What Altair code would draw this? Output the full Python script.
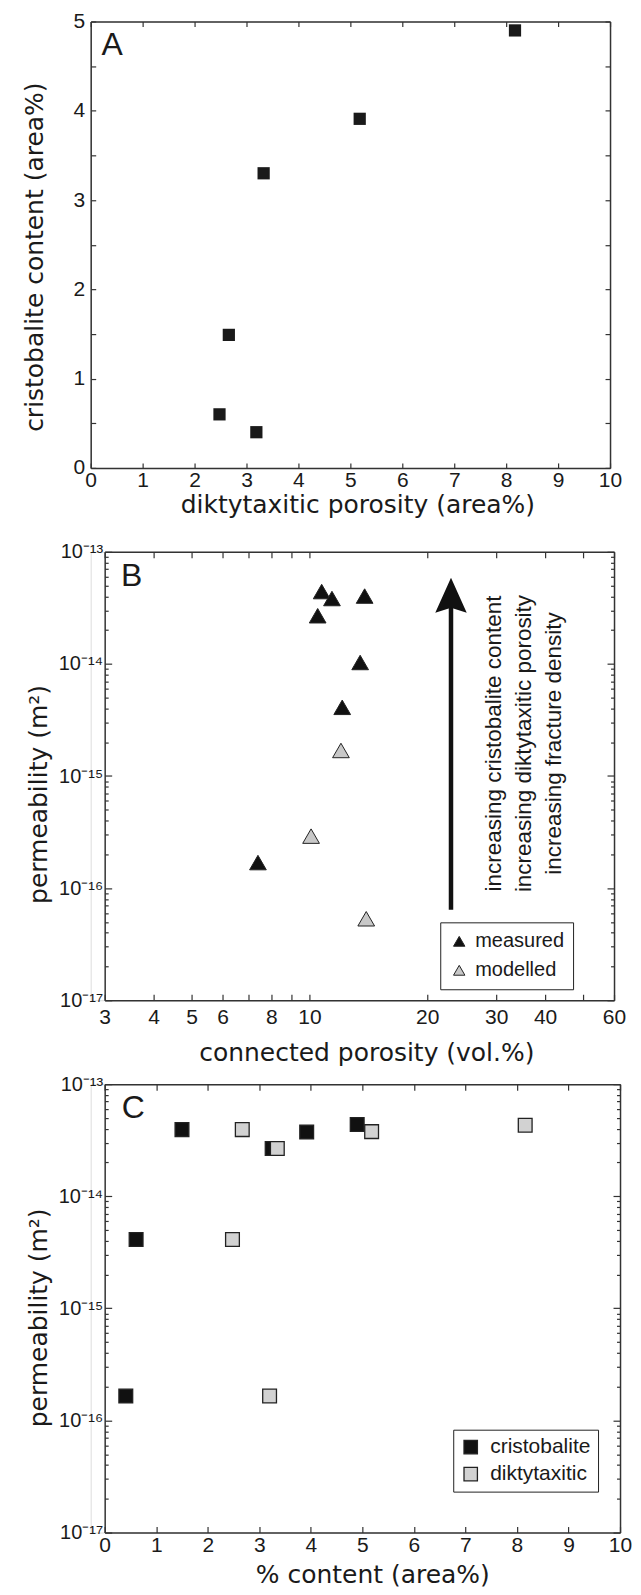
import altair as alt
import pandas as pd

FONT = "Liberation Sans"
TITLE_FONT = "DejaVu Sans"
INK = "#1a1a1a"
FRAME = "#333333"

# ---------------- Panel A data ----------------
a_diktytaxitic = [8.17, 5.18, 3.33, 2.66, 2.48, 3.19]
a_cristobalite = [4.90, 3.91, 3.30, 1.49, 0.60, 0.40]
a_x_ticks = [0, 1, 2, 3, 4, 5, 6, 7, 8, 9, 10]
a_y_ticks = [0, 0.5, 1, 1.5, 2, 2.5, 3, 3.5, 4, 4.5, 5]
a_tag = ["A"]
a_tag_x = [0.21]
a_tag_y = [4.62]

# ---------------- Panel B data ----------------
b_types = ["measured", "modelled"]
b_measured_porosity = [10.75, 11.42, 13.84, 10.5, 13.48, 12.13, 7.39]
b_measured_perm = [4.42e-14, 3.83e-14, 4.03e-14, 2.69e-14, 1.03e-14, 4.1e-15, 1.69e-16]
b_modelled_porosity = [12.04, 10.1, 13.97]
b_modelled_perm = [1.69e-15, 2.91e-16, 5.33e-17]
b_x_ticks = [3, 4, 5, 6, 7, 8, 9, 10, 20, 30, 40, 50, 60]
arrow_x = [23.0]
arrow_y_start = [6.41e-17]
arrow_y_end = [3.66e-14]
arrow_head_y = [4.10e-14]
arrow_text = ["increasing cristobalite content",
              "increasing diktytaxitic porosity",
              "increasing fracture density"]
arrow_text_x = [29.6]
arrow_text_y = [1.95e-15]
b_tag = ["B"]
b_tag_x = [3.30]
b_tag_y = [4.98e-14]

# ---------------- Panel C data ----------------
c_types = ["cristobalite", "diktytaxitic"]
c_cristobalite = [1.50, 3.92, 4.90, 3.25, 0.61, 0.41]
c_cristobalite_perm = [3.93e-14, 3.74e-14, 4.36e-14, 2.67e-14, 4.12e-15, 1.65e-16]
c_diktytaxitic = [2.67, 3.35, 5.18, 8.16, 2.48, 3.20]
c_diktytaxitic_perm = [3.93e-14, 2.67e-14, 3.77e-14, 4.30e-14, 4.12e-15, 1.65e-16]
c_x_ticks = [0, 1, 2, 3, 4, 5, 6, 7, 8, 9, 10]
c_tag = ["C"]
c_tag_x = [0.33]
c_tag_y = [4.98e-14]

# log axis ticks
decades = [1e-17, 1e-16, 1e-15, 1e-14, 1e-13]
minor = [k * d for d in decades[:-1] for k in range(2, 10)]
LOG_LABEL = ("datum.value > 5e-14 ? '10⁻¹³' : datum.value > 5e-15 ? '10⁻¹⁴' : "
             "datum.value > 5e-16 ? '10⁻¹⁵' : datum.value > 5e-17 ? '10⁻¹⁶' : '10⁻¹⁷'")


def ax(**kw):
    base = dict(domain=False, grid=False, tickColor=FRAME, tickWidth=1.2,
                labelColor=INK, labelFont=FONT, labelFontSize=21,
                labelFlush=False, labelOverlap=False, minExtent=0,
                titleFont=TITLE_FONT, titleFontSize=25, titleFontWeight="normal",
                titleColor=INK)
    base.update(kw)
    return alt.Axis(**base)


def ticks_only(orient, values, size, shift=0):
    return ax(orient=orient, values=values, tickSize=size, offset=-(size + shift),
              labels=False, title=None)


def frame_axis(orient, shift=0):
    return alt.Axis(orient=orient, offset=-shift, domain=True, domainColor=FRAME,
                    domainWidth=1.5, ticks=False, labels=False, grid=False,
                    minExtent=0, title=None)


def carrier(df, xf, yf, xs, ys, xaxis, yaxis):
    return alt.Chart(df).mark_point(opacity=0).encode(
        x=alt.X(xf, type="quantitative", scale=xs, axis=xaxis),
        y=alt.Y(yf, type="quantitative", scale=ys, axis=yaxis),
    )


def tag(letters, xs_, ys_, xs, ys):
    df = pd.DataFrame({"x": xs_, "y": ys_, "t": letters})
    return alt.Chart(df).mark_text(align="left", baseline="alphabetic",
                                   font=FONT, fontSize=32, color=INK).encode(
        x=alt.X("x:Q", scale=xs, axis=None),
        y=alt.Y("y:Q", scale=ys, axis=None),
        text="t:N",
    )


# ---------------- Panel A ----------------
dfA = pd.DataFrame({"d": a_diktytaxitic, "c": a_cristobalite})
xA = alt.Scale(domain=[0, 10], nice=False, zero=False)
yA = alt.Scale(domain=[0, 5], nice=False, zero=False)
WA, HA = 520, 447
pointsA = alt.Chart(dfA).mark_square(size=150, color=INK, opacity=1).encode(
    x=alt.X("d:Q", scale=xA, axis=ax(orient="bottom", values=a_x_ticks, tickSize=5,
                                     offset=-5, labelPadding=2, format="d",
                                     title="diktytaxitic porosity (area%)",
                                     titlePadding=2, titleX=WA / 2 + 7)),
    y=alt.Y("c:Q", scale=yA, axis=ax(orient="left", values=a_y_ticks, tickSize=5,
                                     offset=-5, labelPadding=6,
                                     labelExpr="datum.value % 1 == 0 ? format(datum.value, 'd') : ''",
                                     title="cristobalite content (area%)",
                                     titlePadding=26, titleY=HA / 2 + 12)),
)
A = alt.layer(
    carrier(dfA, "d", "c", xA, yA, frame_axis("bottom"), frame_axis("left")),
    carrier(dfA, "d", "c", xA, yA, frame_axis("top"), frame_axis("right")),
    carrier(dfA, "d", "c", xA, yA, ticks_only("top", a_x_ticks, 5),
            ticks_only("right", a_y_ticks, 5)),
    pointsA,
    tag(a_tag, a_tag_x, a_tag_y, xA, yA),
).resolve_axis(x="independent", y="independent").properties(width=WA, height=HA)

# ---------------- Panel B ----------------
SHIFT = 14  # panels B and C start 14 px to the right of panel A
dfB = pd.DataFrame({
    "por": b_measured_porosity + b_modelled_porosity,
    "perm": b_measured_perm + b_modelled_perm,
    "type": [b_types[0]] * len(b_measured_porosity) + [b_types[1]] * len(b_modelled_porosity),
})
WB, HB = 510 + SHIFT, 449
xB = alt.Scale(type="log", domain=[3, 60], range=[SHIFT, WB], nice=False)
yB = alt.Scale(type="log", domain=[1e-17, 1e-13], nice=False)
pointsB = alt.Chart(dfB).mark_point(shape="triangle-up", size=280, filled=True,
                                     stroke="#222", strokeWidth=1, opacity=1).encode(
    x=alt.X("por:Q", scale=xB, axis=ax(orient="bottom", values=b_x_ticks, tickSize=6,
                                       offset=-6, labelPadding=6,
                                       labelExpr="indexof([7, 9, 50], datum.value) >= 0 ? '' : format(datum.value, 'd')",
                                       title="connected porosity (vol.%)",
                                       titlePadding=13, titleX=(SHIFT + WB) / 2 + 7)),
    y=alt.Y("perm:Q", scale=yB, axis=ax(orient="left", values=decades, tickSize=7,
                                        offset=-(7 + SHIFT), labelPadding=2,
                                        labelFontSize=20, labelExpr=LOG_LABEL,
                                        title="permeability (m²)", titlePadding=7,
                                        titleY=HB / 2 + 18)),
    fill=alt.Fill("type:N", scale=alt.Scale(domain=b_types, range=["#111111", "#c8c8c8"]),
                  legend=alt.Legend(orient="none", legendX=350, legendY=371, title=None,
                                    direction="vertical", symbolType="triangle-up",
                                    symbolSize=130, symbolStrokeColor="#222",
                                    symbolStrokeWidth=1, labelFont=FONT, labelFontSize=20,
                                    labelColor=INK, labelOffset=6, padding=9, rowPadding=9,
                                    strokeColor="#222", fillColor="white")),
)
dfArrow = pd.DataFrame({"x": arrow_x, "y": arrow_y_start, "y2": arrow_y_end, "yh": arrow_head_y})
shaft = alt.Chart(dfArrow).mark_rule(strokeWidth=4.5, color="#111").encode(
    x=alt.X("x:Q", scale=xB, axis=None),
    y=alt.Y("y:Q", scale=yB, axis=None),
    y2="y2:Q",
)
head = alt.Chart(dfArrow).mark_point(shape="M0,-1L0.9,1L0,0.72L-0.9,1Z", size=1225,
                                     filled=True, color="#111", opacity=1).encode(
    x=alt.X("x:Q", scale=xB, axis=None),
    y=alt.Y("yh:Q", scale=yB, axis=None),
)
dfNote = pd.DataFrame({"x": arrow_text_x, "y": arrow_text_y})
note = alt.Chart(dfNote).mark_text(text=arrow_text, angle=270, align="center",
                                    baseline="middle", font=FONT, fontSize=22.5,
                                    lineHeight=30, color=INK).encode(
    x=alt.X("x:Q", scale=xB, axis=None),
    y=alt.Y("y:Q", scale=yB, axis=None),
)
B = alt.layer(
    carrier(dfB, "por", "perm", xB, yB, frame_axis("bottom"), frame_axis("left", SHIFT)),
    carrier(dfB, "por", "perm", xB, yB, frame_axis("top"), frame_axis("right")),
    carrier(dfB, "por", "perm", xB, yB, ticks_only("top", b_x_ticks, 6),
            ticks_only("right", decades, 7)),
    carrier(dfB, "por", "perm", xB, yB, None, ticks_only("left", minor, 3.5, SHIFT)),
    carrier(dfB, "por", "perm", xB, yB, None, ticks_only("right", minor, 3.5)),
    shaft, head, note, pointsB,
    tag(b_tag, b_tag_x, b_tag_y, xB, yB),
).resolve_axis(x="independent", y="independent").properties(width=WB, height=HB)

# ---------------- Panel C ----------------
dfC = pd.DataFrame({
    "pct": c_cristobalite + c_diktytaxitic,
    "perm": c_cristobalite_perm + c_diktytaxitic_perm,
    "kind": [c_types[0]] * len(c_cristobalite) + [c_types[1]] * len(c_diktytaxitic),
})
WC, HC = 516 + SHIFT, 449
xC = alt.Scale(domain=[0, 10], range=[SHIFT, WC], nice=False, zero=False)
yC = alt.Scale(type="log", domain=[1e-17, 1e-13], nice=False)
pointsC = alt.Chart(dfC).mark_point(shape="square", size=190, filled=True,
                                     stroke="#222", strokeWidth=1.3, opacity=1).encode(
    x=alt.X("pct:Q", scale=xC, axis=ax(orient="bottom", values=c_x_ticks, tickSize=6,
                                       offset=-6, labelPadding=2, format="d",
                                       title="% content (area%)", titlePadding=7,
                                       titleX=(SHIFT + WC) / 2 + 10)),
    y=alt.Y("perm:Q", scale=yC, axis=ax(orient="left", values=decades, tickSize=7,
                                        offset=-(7 + SHIFT), labelPadding=2,
                                        labelFontSize=20, labelExpr=LOG_LABEL,
                                        title="permeability (m²)", titlePadding=7,
                                        titleY=HC / 2 + 9)),
    fill=alt.Fill("kind:N", scale=alt.Scale(domain=c_types, range=["#111111", "#d2d2d2"]),
                  legend=alt.Legend(orient="none", legendX=363, legendY=346, title=None,
                                    direction="vertical", symbolType="square",
                                    symbolSize=180, symbolStrokeColor="#222",
                                    symbolStrokeWidth=1.3, labelFont=FONT, labelFontSize=21,
                                    labelColor=INK, labelOffset=9, padding=7, rowPadding=5,
                                    strokeColor="#222", fillColor="white")),
)
C = alt.layer(
    carrier(dfC, "pct", "perm", xC, yC, frame_axis("bottom"), frame_axis("left", SHIFT)),
    carrier(dfC, "pct", "perm", xC, yC, frame_axis("top"), frame_axis("right")),
    carrier(dfC, "pct", "perm", xC, yC, ticks_only("top", c_x_ticks, 6),
            ticks_only("right", decades, 7)),
    carrier(dfC, "pct", "perm", xC, yC, None, ticks_only("left", minor, 3.5, SHIFT)),
    carrier(dfC, "pct", "perm", xC, yC, None, ticks_only("right", minor, 3.5)),
    pointsC,
    tag(c_tag, c_tag_x, c_tag_y, xC, yC),
).resolve_axis(x="independent", y="independent").properties(width=WC, height=HC)

chart = alt.vconcat(A, B, C, spacing=84, bounds="flush").resolve_scale(
    fill="independent").properties(
    padding={"left": 12.8, "top": 0.5, "right": 0, "bottom": 0},
).configure_view(stroke="transparent", strokeWidth=0).configure(background="white")

chart.save("out.html", embed_options={"renderer": "svg", "actions": False})
